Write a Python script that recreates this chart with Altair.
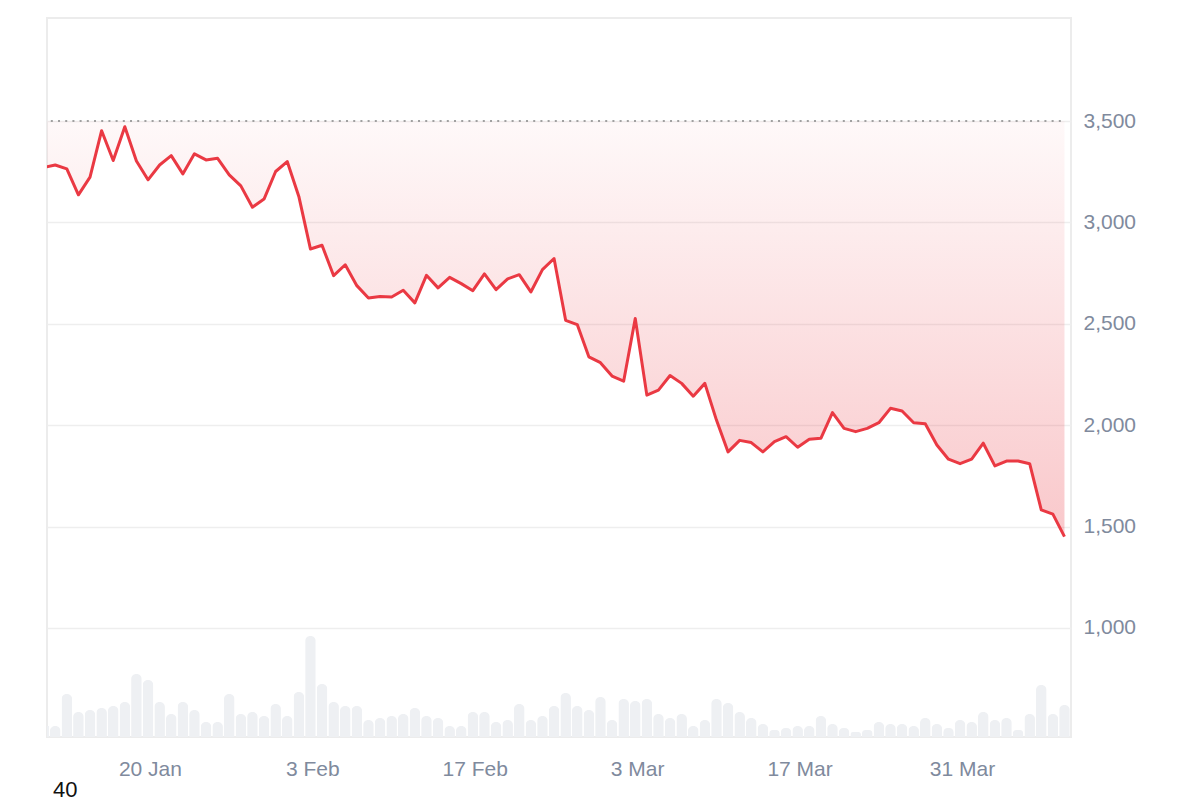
import altair as alt
import pandas as pd

# ---- data ----
start_date = "2025-01-11"
n_days = 89
price = [3271, 3283, 3264, 3136, 3223, 3452, 3305, 3472, 3303, 3210,
         3283, 3329, 3239, 3338, 3308, 3316, 3234, 3180, 3075, 3115,
         3251, 3300, 3128, 2869, 2887, 2737, 2791, 2688, 2627, 2635,
         2632, 2665, 2603, 2739, 2677, 2729, 2698, 2663, 2746, 2668,
         2721, 2742, 2657, 2767, 2822, 2517, 2496, 2337, 2308, 2242,
         2217, 2526, 2148, 2173, 2245, 2206, 2143, 2206, 2025, 1868,
         1925, 1914, 1868, 1919, 1943, 1891, 1930, 1935, 2062, 1984,
         1968, 1984, 2012, 2083, 2070, 2012, 2007, 1902, 1832, 1810,
         1832, 1911, 1799, 1823, 1823, 1810, 1582, 1561, 1450]
volume = [44, 44, 172, 100, 108, 116, 124, 140, 252, 228,
          140, 92, 140, 108, 60, 60, 172, 92, 100, 84,
          132, 84, 180, 404, 212, 140, 124, 124, 68, 76,
          84, 92, 116, 84, 76, 44, 44, 100, 100, 60,
          68, 132, 68, 84, 124, 176, 124, 108, 160, 68,
          152, 144, 152, 92, 76, 92, 44, 68, 152, 136,
          100, 76, 52, 28, 36, 44, 44, 84, 52, 36,
          20, 28, 60, 52, 52, 44, 76, 52, 36, 68,
          60, 100, 68, 76, 28, 92, 208, 92, 128]
reference_level = 3500
y_ticks = [1000, 1500, 2000, 2500, 3000, 3500]
x_ticks = [(1, 20), (2, 3), (2, 17), (3, 3), (3, 17), (3, 31)]
footer_label = "40"

dates = pd.date_range(start_date, periods=n_days, freq="D") - pd.Timedelta(hours=4)
df = pd.DataFrame({"date": dates, "price": price, "volume": volume,
                   "ref": [reference_level] * n_days, "idx": list(range(n_days))})

RED = "#ea3943"
LABEL = "#808a9d"
FONT = "Liberation Sans"

x_enc = alt.X(
    "date:T",
    scale=alt.Scale(domain=[alt.DateTime(year=2025, month=1, date=11, hours=3),
                            alt.DateTime(year=2025, month=4, date=9, hours=9, minutes=30)],
                    nice=False, padding=0),
    axis=alt.Axis(values=[alt.DateTime(year=2025, month=m, date=d) for m, d in x_ticks],
                  format="%-d %b", title=None, ticks=False, domain=False, grid=False,
                  labelPadding=21, labelFontSize=21, labelColor=LABEL, labelFont=FONT),
)

price_axis = alt.Axis(orient="right", values=y_ticks, format=",.0f", title=None,
                      ticks=False, domain=False, grid=True, gridColor="#eeeeee",
                      gridWidth=1.5, labelPadding=12, labelFontSize=21,
                      labelColor=LABEL, labelFont=FONT)


def y_scale():
    return alt.Scale(domain=[462, 4008], nice=False, zero=False)


base = alt.Chart(df)
vol_y = alt.Y("volume:Q", scale=alt.Scale(domain=[0, 2876], nice=False), axis=None)

# the first bar straddles the left edge and is clipped; the rest get rounded tops
bars_edge = base.transform_filter("datum.idx == 0").mark_bar(
    color="#eef0f3", size=10.6, clip=True).encode(x=x_enc, y=vol_y)
bars_rest = base.transform_filter("datum.idx > 0").mark_bar(
    color="#eef0f3", size=10.6, cornerRadiusEnd=5).encode(x=x_enc, y=vol_y)
bars = alt.layer(bars_edge, bars_rest)

gradient = alt.Gradient(
    gradient="linear",
    stops=[alt.GradientStop(color="rgba(234,57,67,0.03)", offset=0),
           alt.GradientStop(color="rgba(234,57,67,0.28)", offset=1)],
    x1=1, x2=1, y1=0, y2=1,
)

area = base.mark_area(color=gradient, clip=True).encode(
    x=x_enc,
    y=alt.Y("price:Q", scale=y_scale(), axis=None),
    y2=alt.Y2("ref:Q"),
)

dotted = base.mark_line(color="#a0a0a0", strokeWidth=2, strokeDash=[2, 5.2],
                        clip=True).encode(
    x=x_enc,
    y=alt.Y("ref:Q", scale=y_scale(), axis=None),
)

line = base.mark_line(color=RED, strokeWidth=3, clip=True,
                      strokeJoin="round").encode(
    x=x_enc,
    y=alt.Y("price:Q", scale=y_scale(), axis=price_axis),
)

footer = alt.Chart(alt.Data(values=[{"label": footer_label}])).mark_text(
    align="left", baseline="middle", fontSize=22, font=FONT, color="#111111"
).encode(x=alt.value(6), y=alt.value(772), text="label:N")

chart = alt.layer(bars, area, dotted, line, footer).resolve_scale(y="independent").properties(
    width=1024, height=719,
    padding={"left": 39, "top": 10, "right": 10, "bottom": 0},
).configure_view(stroke="#ececec", strokeWidth=2)

chart.save("out.html", embed_options={"renderer": "svg", "actions": False})
